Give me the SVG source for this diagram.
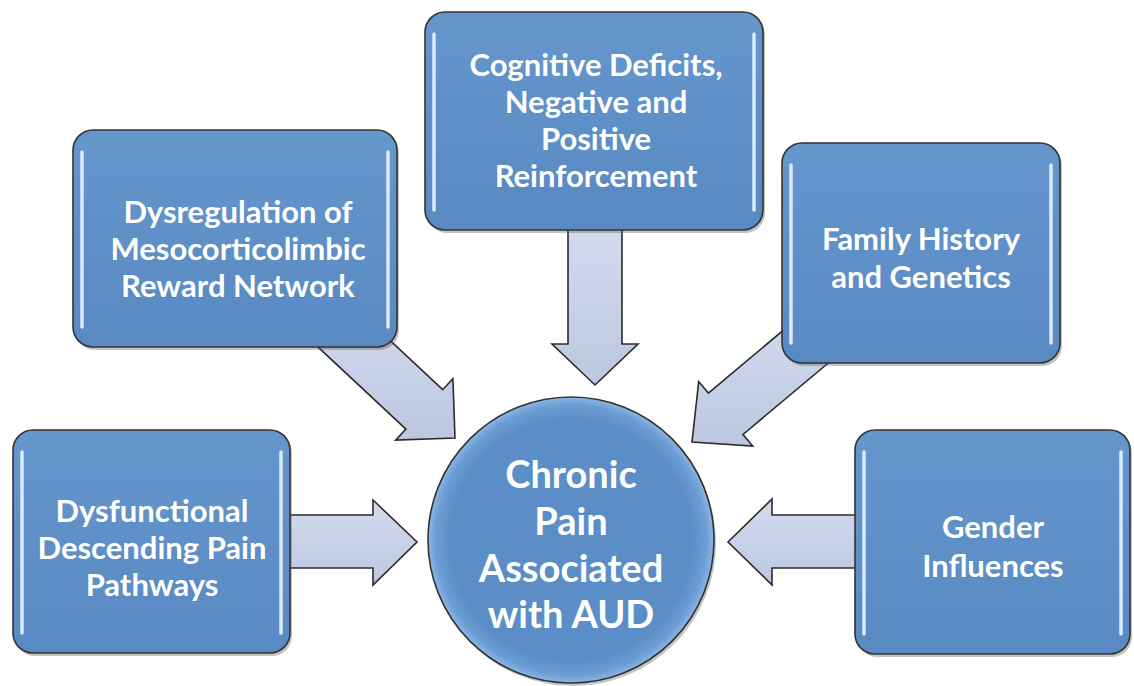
<svg xmlns="http://www.w3.org/2000/svg" width="1134" height="686" viewBox="0 0 1134 686">
<defs>
<linearGradient id="arrowFill" x1="0" y1="0" x2="0" y2="1">
<stop offset="0" stop-color="#d3dbee"/>
<stop offset="1" stop-color="#bcc7e0"/>
</linearGradient>
<linearGradient id="boxFill" x1="0" y1="0" x2="0" y2="1">
<stop offset="0" stop-color="#6596cc"/>
<stop offset="1" stop-color="#5889c2"/>
</linearGradient>
<radialGradient id="circFill" cx="0.5" cy="0.5" r="0.5">
<stop offset="0.85" stop-color="#5b8ec7"/>
<stop offset="0.95" stop-color="#6d9fd6"/>
<stop offset="1" stop-color="#8db7e4"/>
</radialGradient>
</defs>
<style>
.box{fill:url(#boxFill);stroke:#333;stroke-width:1.6}
.shadow{fill:#555;opacity:0.35}
.hl{stroke:#dbeafd;stroke-width:3.5;stroke-linecap:round;fill:none}
.arrow{fill:url(#arrowFill);stroke:#2b2b2b;stroke-width:1.6;stroke-linejoin:miter}
.lbl{font-family:Lato,"Open Sans","Liberation Sans",sans-serif;font-weight:bold;font-size:31px;fill:#ffffff;text-anchor:middle}
.big{font-size:38px}
</style>
<rect width="1134" height="686" fill="#ffffff"/>
<g id="connectors">
<polygon class="arrow" points="568,225 622,225 622,344 638,344 595,385 552,344 568,344"/>
<polygon class="arrow" points="310.9,340.4 347.7,301 442.7,389.7 452.9,378.7 455,438 395.7,440.1 405.9,429.1"/>
<polygon class="arrow" points="808,309.6 842.6,351 743,434.5 752.7,446 692,442 698.7,381.6 708.4,393.1"/>
<polygon class="arrow" points="280,515 373,515 373,500 417,542 373,585 373,568 280,568"/>
<polygon class="arrow" points="862,515 772,515 772,499 728,542 772,585 772,568 862,568"/>
</g>
<g id="node-dysregulation">
<rect class="shadow" x="75" y="133" width="324" height="217" rx="20"/>
<rect class="box" x="73" y="130" width="324" height="217" rx="20"/>
<line class="hl" x1="82" y1="152" x2="82" y2="327"/>
<line class="hl" x1="388" y1="152" x2="388" y2="327"/>
<text class="lbl" x="238" y="223">Dysregulation of</text>
<text class="lbl" x="238" y="260">Mesocorticolimbic</text>
<text class="lbl" x="238" y="297">Reward Network</text>
</g>
<g id="node-cognitive">
<rect class="shadow" x="427" y="15" width="338" height="218" rx="20"/>
<rect class="box" x="425" y="12" width="338" height="218" rx="20"/>
<line class="hl" x1="434" y1="34" x2="434" y2="210"/>
<line class="hl" x1="754" y1="34" x2="754" y2="210"/>
<text class="lbl" x="596" y="76">Cognitive Deficits,</text>
<text class="lbl" x="596" y="113">Negative and</text>
<text class="lbl" x="596" y="150">Positive</text>
<text class="lbl" x="596" y="187">Reinforcement</text>
</g>
<g id="node-family">
<rect class="shadow" x="784" y="146" width="278" height="220" rx="20"/>
<rect class="box" x="782" y="143" width="278" height="220" rx="20"/>
<line class="hl" x1="791" y1="165" x2="791" y2="343"/>
<line class="hl" x1="1051" y1="165" x2="1051" y2="343"/>
<text class="lbl" x="921" y="250">Family History</text>
<text class="lbl" x="921" y="288">and Genetics</text>
</g>
<g id="node-dysfunctional">
<rect class="shadow" x="15" y="433" width="277" height="223" rx="20"/>
<rect class="box" x="13" y="430" width="277" height="223" rx="20"/>
<line class="hl" x1="22" y1="452" x2="22" y2="633"/>
<line class="hl" x1="281" y1="452" x2="281" y2="633"/>
<text class="lbl" x="152" y="522">Dysfunctional</text>
<text class="lbl" x="152" y="559">Descending Pain</text>
<text class="lbl" x="152" y="596">Pathways</text>
</g>
<g id="node-gender">
<rect class="shadow" x="857" y="433" width="275" height="224" rx="20"/>
<rect class="box" x="855" y="430" width="275" height="224" rx="20"/>
<line class="hl" x1="864" y1="452" x2="864" y2="634"/>
<line class="hl" x1="1121" y1="452" x2="1121" y2="634"/>
<text class="lbl" x="993" y="538">Gender</text>
<text class="lbl" x="993" y="577">Influences</text>
</g>
<g id="node-chronic">
<circle cx="573" cy="543" r="143" fill="#555" opacity="0.35"/>
<circle cx="571" cy="540" r="143" fill="url(#circFill)" stroke="#333" stroke-width="1.6"/>
<text class="lbl big" x="571" y="488">Chronic</text>
<text class="lbl big" x="571" y="535">Pain</text>
<text class="lbl big" x="571" y="582">Associated</text>
<text class="lbl big" x="571" y="628">with AUD</text>
</g>
</svg>
